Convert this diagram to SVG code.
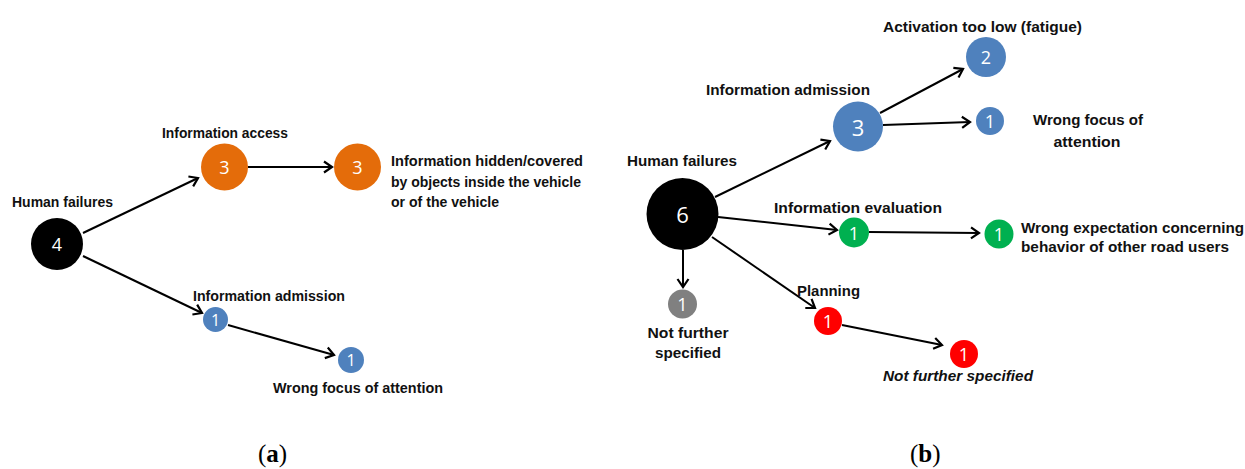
<svg xmlns="http://www.w3.org/2000/svg" width="1245" height="469" viewBox="0 0 1245 469">
<style>
.lbl{font-family:"Liberation Sans",Arial,sans-serif;font-weight:bold;font-size:15px;fill:#111}
.num{font-family:"Open Sans","Liberation Sans",sans-serif;font-size:18px;fill:#fff;text-anchor:middle;dominant-baseline:central}
.big{font-size:22px}
.sm{font-size:16px}
.cap{font-family:"Liberation Serif","Times New Roman",serif;font-size:25px;fill:#000}
.conn{stroke:#000;stroke-width:2;fill:none;marker-end:url(#ah)}
</style>
<defs>
<marker id="ah" markerWidth="14" markerHeight="14" refX="11" refY="7" orient="auto" markerUnits="userSpaceOnUse">
<path d="M3,1.5 L11,7 L3,12.5" fill="none" stroke="#000" stroke-width="2.2"/>
</marker>
</defs>
<rect width="1245" height="469" fill="#fff"/>

<g id="connectors">
<line class="conn" x1="83" y1="233" x2="198" y2="178"/>
<line class="conn" x1="248" y1="167" x2="332" y2="167"/>
<line class="conn" x1="83" y1="256" x2="202" y2="313"/>
<line class="conn" x1="228" y1="325" x2="334" y2="355"/>

<line class="conn" x1="715" y1="197" x2="830" y2="141"/>
<line class="conn" x1="880" y1="113" x2="963" y2="69"/>
<line class="conn" x1="883" y1="125" x2="970" y2="122"/>
<line class="conn" x1="718" y1="217" x2="837" y2="230"/>
<line class="conn" x1="869" y1="232" x2="979" y2="233"/>
<line class="conn" x1="712" y1="237" x2="815" y2="308"/>
<line class="conn" x1="842" y1="325" x2="942" y2="345"/>
<line class="conn" x1="683" y1="250" x2="683" y2="287"/>
</g>

<!-- Panel (a) -->
<g id="a-human">
<text class="lbl" x="12" y="207" textLength="101" lengthAdjust="spacingAndGlyphs">Human failures</text>
<circle cx="57" cy="244" r="26" fill="#000"/>
<text class="num" x="57" y="244">4</text>
</g>
<g id="a-access">
<text class="lbl" x="162" y="138" textLength="126" lengthAdjust="spacingAndGlyphs">Information access</text>
<circle cx="224.5" cy="167" r="23.5" fill="#E46C0A"/>
<text class="num" x="224.5" y="167">3</text>
</g>
<g id="a-hidden">
<circle cx="357.5" cy="167" r="23.5" fill="#E46C0A"/>
<text class="num" x="357.5" y="167">3</text>
<text class="lbl" x="391" y="166" textLength="192" lengthAdjust="spacingAndGlyphs">Information hidden/covered</text>
<text class="lbl" x="391" y="187" textLength="190" lengthAdjust="spacingAndGlyphs">by objects inside the vehicle</text>
<text class="lbl" x="391" y="207" textLength="108" lengthAdjust="spacingAndGlyphs">or of the vehicle</text>
</g>
<g id="a-admission">
<text class="lbl" x="193" y="301" textLength="152" lengthAdjust="spacingAndGlyphs">Information admission</text>
<circle cx="215.5" cy="319.5" r="12.5" fill="#4F81BD"/>
<text class="num sm" x="215.5" y="319.5">1</text>
</g>
<g id="a-focus">
<circle cx="351" cy="360" r="13" fill="#4F81BD"/>
<text class="num sm" x="351" y="360">1</text>
<text class="lbl" x="273" y="393" textLength="170" lengthAdjust="spacingAndGlyphs">Wrong focus of attention</text>
</g>
<text class="cap" x="258" y="462"><tspan>(</tspan><tspan font-weight="bold">a</tspan><tspan>)</tspan></text>

<!-- Panel (b) -->
<g id="b-human">
<text class="lbl" x="627" y="166" textLength="110" lengthAdjust="spacingAndGlyphs">Human failures</text>
<circle cx="682.5" cy="214" r="36" fill="#000"/>
<text class="num big" x="682.5" y="214">6</text>
</g>
<g id="b-admission">
<text class="lbl" x="706" y="95" textLength="164" lengthAdjust="spacingAndGlyphs">Information admission</text>
<circle cx="858" cy="126.5" r="25" fill="#4F81BD"/>
<text class="num big" x="858" y="126.5">3</text>
</g>
<g id="b-fatigue">
<text class="lbl" x="883" y="32" textLength="199" lengthAdjust="spacingAndGlyphs">Activation too low (fatigue)</text>
<circle cx="986" cy="57" r="20" fill="#4F81BD"/>
<text class="num" x="986" y="57">2</text>
</g>
<g id="b-focus">
<circle cx="990" cy="121" r="14" fill="#4F81BD"/>
<text class="num" x="990" y="121">1</text>
<text class="lbl" x="1088" y="125" text-anchor="middle" textLength="110" lengthAdjust="spacingAndGlyphs">Wrong focus of</text>
<text class="lbl" x="1087" y="147" text-anchor="middle" textLength="67" lengthAdjust="spacingAndGlyphs">attention</text>
</g>
<g id="b-evaluation">
<text class="lbl" x="774" y="213" textLength="168" lengthAdjust="spacingAndGlyphs">Information evaluation</text>
<circle cx="854" cy="232.5" r="15" fill="#00B050"/>
<text class="num" x="854" y="232.5">1</text>
</g>
<g id="b-expectation">
<circle cx="999" cy="234" r="14.5" fill="#00B050"/>
<text class="num" x="999" y="234">1</text>
<text class="lbl" x="1021" y="233" textLength="223" lengthAdjust="spacingAndGlyphs">Wrong expectation concerning</text>
<text class="lbl" x="1021" y="252" textLength="208" lengthAdjust="spacingAndGlyphs">behavior of other road users</text>
</g>
<g id="b-notfurther">
<circle cx="682.5" cy="304" r="14.5" fill="#808080"/>
<text class="num" x="682.5" y="304">1</text>
<text class="lbl" x="688" y="338" text-anchor="middle" textLength="81" lengthAdjust="spacingAndGlyphs">Not further</text>
<text class="lbl" x="688" y="358" text-anchor="middle" textLength="66" lengthAdjust="spacingAndGlyphs">specified</text>
</g>
<g id="b-planning">
<text class="lbl" x="797" y="296" textLength="63" lengthAdjust="spacingAndGlyphs">Planning</text>
<circle cx="828" cy="321" r="14" fill="#FF0000"/>
<text class="num" x="828" y="321">1</text>
</g>
<g id="b-planning-nfs">
<circle cx="964" cy="354" r="14" fill="#FF0000"/>
<text class="num" x="964" y="354">1</text>
<text class="lbl" x="883" y="381" font-style="italic" textLength="150" lengthAdjust="spacingAndGlyphs">Not further specified</text>
</g>
<text class="cap" x="910" y="462"><tspan>(</tspan><tspan font-weight="bold">b</tspan><tspan>)</tspan></text>
</svg>
